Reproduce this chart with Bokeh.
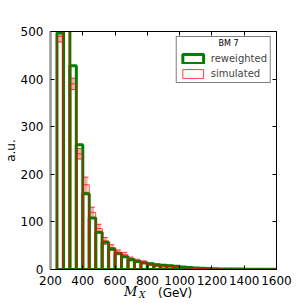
from bokeh.plotting import figure
from bokeh.layouts import column
from bokeh.models import (ColumnDataSource, Legend, LegendItem, Label, LinearAxis, Div,
                          SingleIntervalTicker, Whisker, TeeHead, Range1d, CustomJSTickFormatter)
from bokeh.embed import file_html
from bokeh.resources import INLINE

# ---- data ----
bin_lo = [240, 280, 320, 360, 400, 440, 480, 520, 560, 600, 640, 680, 720, 760, 800, 840, 880,
          920, 960, 1000, 1040, 1080, 1120, 1160, 1200, 1240, 1280, 1320, 1360, 1400, 1440, 1480,
          1520, 1560]
bin_hi = [280, 320, 360, 400, 440, 480, 520, 560, 600, 640, 680, 720, 760, 800, 840, 880, 920,
          960, 1000, 1040, 1080, 1120, 1160, 1200, 1240, 1280, 1320, 1360, 1400, 1440, 1480, 1520,
          1560, 1600]
reweighted = [497, 560, 428, 262, 159, 108, 78, 57, 43, 34, 27, 21, 17, 14, 12, 10, 9, 8, 7, 5,
              4, 3, 2.5, 2, 1.5, 1.2, 1.0, 0.9, 0.8, 0.7, 0.6, 0.5, 0.5, 0.4]
simulated = [490, 540, 390, 243, 178, 120, 86, 60, 46, 36, 31, 22, 18, 15, 11, 9, 7, 7, 6, 4,
             3, 2, 2, 1.5, 1, 1, 0.6, 0.5, 0.4, 0.3, 0.3, 0.2, 0.2, 0.8]
sim_err = [12, 13, 12, 11, 16, 11, 9, 7, 6, 5, 5, 4, 3.5, 3, 2.5, 2.5, 2, 2, 2, 1.6, 1.4, 1.2,
           1.2, 1, 0.8, 0.8, 0.6, 0.6, 0.5, 0.5, 0.5, 0.4, 0.4, 0.7]
x_ticks_interval = 200
y_ticks_interval = 100
legend_title = "BM 7"
series_names = ["reweighted", "simulated"]
y_label = "a.u."

mid = [(a + b) / 2 for a, b in zip(bin_lo, bin_hi)]
src = ColumnDataSource(dict(lo=bin_lo, hi=bin_hi, rw=reweighted, sim=simulated, mid=mid,
                            up=[s + e for s, e in zip(simulated, sim_err)],
                            dn=[s - e for s, e in zip(simulated, sim_err)]))

FONT = "DejaVu Sans"
p = figure(width=301, height=287, x_range=Range1d(200, 1600), y_range=Range1d(0, 500),
           output_backend="svg", toolbar_location=None,
           min_border_left=46, min_border_right=25, min_border_top=31, min_border_bottom=18)
p.margin = 0
p.grid.visible = False
p.outline_line_color = None
p.background_fill_color = "white"
p.border_fill_color = "white"

p.xaxis.ticker = SingleIntervalTicker(interval=x_ticks_interval)
p.yaxis.ticker = SingleIntervalTicker(interval=y_ticks_interval)
for ax in [p.xaxis[0], p.yaxis[0]]:
    ax.major_tick_in = 4
    ax.major_tick_out = 0
    ax.minor_tick_line_color = None
    ax.major_label_text_font = FONT
    ax.major_label_text_font_size = "12px"
    ax.major_label_text_color = "black"
    ax.axis_line_color = "black"
p.xaxis.major_label_standoff = 2
p.yaxis.major_label_standoff = 3
p.yaxis.axis_line_color = "#999999"
p.yaxis.axis_line_width = 2.5
p.yaxis.axis_label = y_label
p.yaxis.axis_label_text_font = FONT
p.yaxis.axis_label_text_font_size = "12px"
p.yaxis.axis_label_text_font_style = "normal"
p.yaxis.axis_label_text_color = "black"
p.yaxis.axis_label_standoff = 0

for loc, tick_int in [("above", x_ticks_interval), ("right", y_ticks_interval)]:
    ax = LinearAxis(ticker=SingleIntervalTicker(interval=tick_int),
                    formatter=CustomJSTickFormatter(code="return ''"))
    ax.major_tick_in = 4
    ax.major_tick_out = 0
    ax.minor_tick_line_color = None
    ax.major_label_text_color = None
    ax.major_label_standoff = 0
    ax.axis_line_color = "black"
    p.add_layout(ax, loc)

g = p.quad(left="lo", right="hi", bottom=0, top="rw", source=src, fill_color=None,
           line_color="#008000", line_width=3)
r = p.quad(left="lo", right="hi", bottom=0, top="sim", source=src, fill_color=None,
           line_color="red", line_width=1, line_alpha=0.75)

w = Whisker(source=src, base="mid", upper="up", lower="dn", dimension="height",
            line_color="red", line_alpha=0.35, line_width=3,
            upper_head=TeeHead(size=5, line_color="red", line_width=1, line_alpha=0.8),
            lower_head=TeeHead(size=5, line_color="red", line_width=1, line_alpha=0.8))
p.add_layout(w)

legend = Legend(items=[LegendItem(label=series_names[0], renderers=[g]),
                       LegendItem(label=series_names[1], renderers=[r])],
                location="top_right", title=" ")
legend.margin = 5
legend.padding = 3
legend.spacing = 4
legend.glyph_width = 26
legend.glyph_height = 11
legend.label_height = 11
legend.label_standoff = 5
legend.label_text_font = FONT
legend.label_text_font_size = "10px"
legend.title_text_font_size = "8px"
legend.title_standoff = 4
legend.border_line_color = "black"
legend.border_line_width = 1
legend.background_fill_alpha = 0
p.add_layout(legend)

p.add_layout(Label(x=178, y=226, x_units="screen", y_units="screen", text=legend_title,
                   text_font=FONT, text_font_size="8px", text_align="center",
                   text_baseline="middle", text_color="black", level="overlay"))

span_common = "position:absolute;white-space:nowrap;color:black;"
xlabel_html = (
    '<div style="position:relative;width:301px;height:20px;">'
    f'<span style="{span_common}left:124px;top:-2px;line-height:14px;'
    'font-family:\'DejaVu Serif\';font-style:italic;font-size:13px;">M</span>'
    f'<span style="{span_common}left:139px;top:3px;line-height:10px;'
    'font-family:\'DejaVu Serif\';font-style:italic;font-size:9px;">X</span>'
    f'<span style="{span_common}left:158px;top:0px;line-height:12px;'
    'font-family:\'DejaVu Sans\';font-size:12px;">(GeV)</span>'
    '</div>'
)
d = Div(text=xlabel_html, width=301, height=20, margin=0)

layout = column(p, d, spacing=0)
open("out.html", "w").write(file_html(layout, INLINE))
